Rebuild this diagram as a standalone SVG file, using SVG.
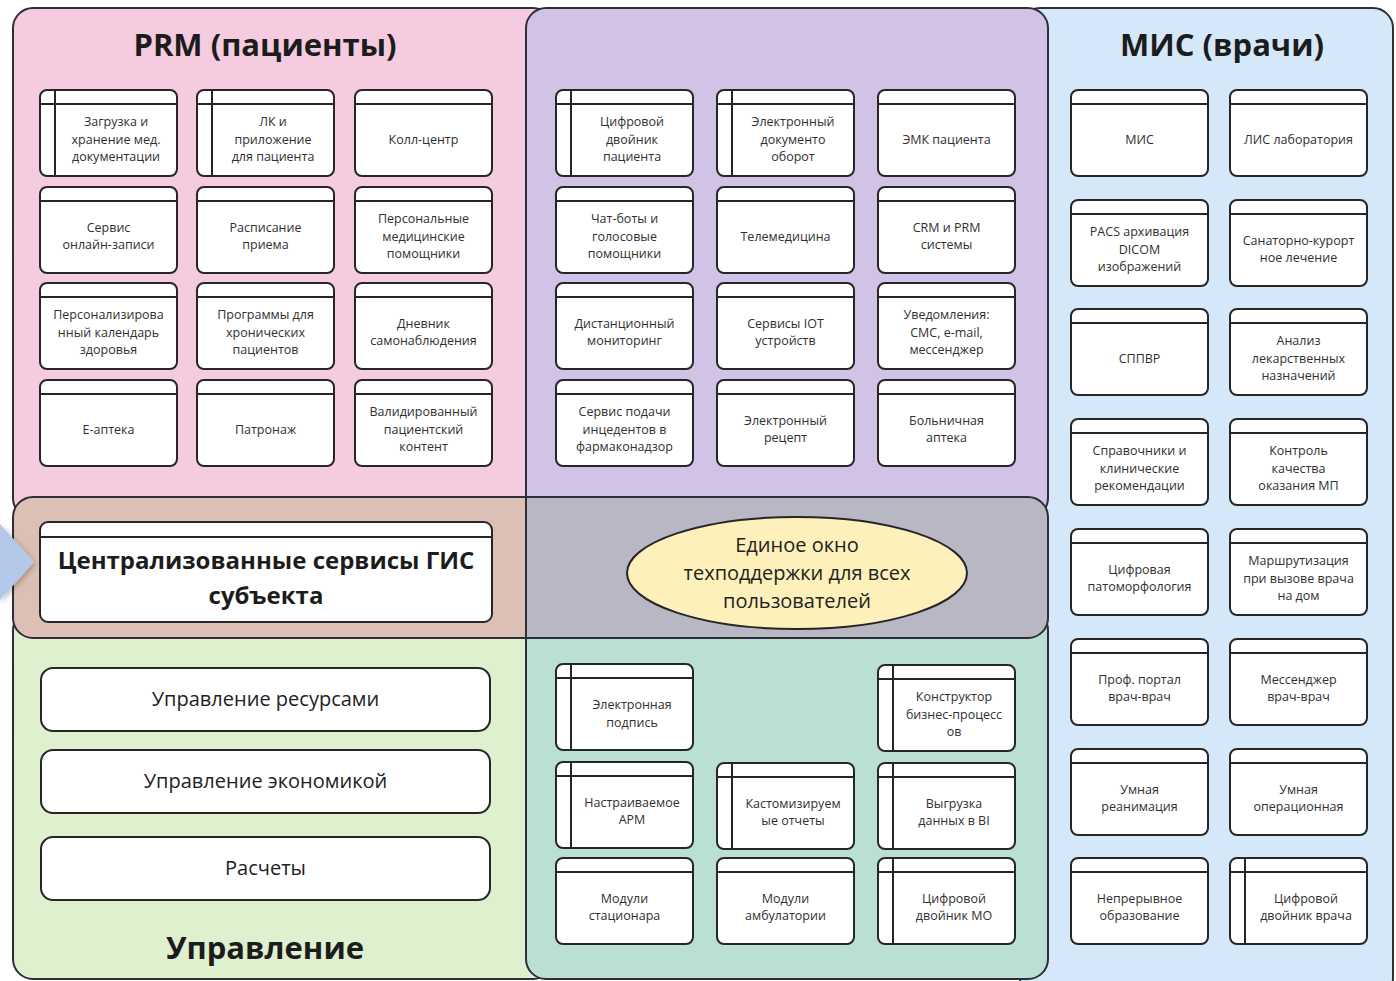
<svg xmlns="http://www.w3.org/2000/svg" width="1396" height="981" viewBox="0 0 1396 981">
  <defs>
    <filter id="soft" x="-50%" y="-50%" width="200%" height="200%">
      <feGaussianBlur in="SourceAlpha" stdDeviation="3"/>
      <feOffset dx="1" dy="2"/>
      <feComponentTransfer><feFuncA type="linear" slope="0.3"/></feComponentTransfer>
      <feMerge><feMergeNode/><feMergeNode in="SourceGraphic"/></feMerge>
    </filter>
  </defs>
  <style>
    .panel { stroke: #2e2e36; stroke-width: 2; }
    .box { fill: #ffffff; stroke: #262626; stroke-width: 2; }
    .sep { stroke: #262626; stroke-width: 2; fill: none; }
    .lbl { font-family: "Open Sans", "Noto Sans", "DejaVu Sans", sans-serif; font-size: 12.5px; fill: #303030; text-anchor: middle; }
    .title { font-family: "Open Sans", "Noto Sans", "DejaVu Sans", sans-serif; font-size: 31px; font-weight: 700; fill: #1c1c1c; text-anchor: middle; }
    .big { font-family: "Open Sans", "Noto Sans", "DejaVu Sans", sans-serif; font-size: 20px; fill: #222222; text-anchor: middle; }
    .bigb { font-family: "Open Sans", "Noto Sans", "DejaVu Sans", sans-serif; font-size: 24px; font-weight: 700; fill: #1c1c1c; text-anchor: middle; }
  </style>

  <rect width="1396" height="981" fill="#ffffff"/>

  <!-- background zones -->
  <g id="zones">
    <rect class="panel" x="1020" y="8" width="373" height="990" rx="20" fill="#d4e8f9"/>
    <rect class="panel" x="13" y="8" width="540" height="510" rx="20" fill="#f5cbe0"/>
    <rect class="panel" x="526" y="8" width="522" height="510" rx="20" fill="#d1c3e5"/>
    <rect class="panel" x="13" y="610" width="540" height="369" rx="20" fill="#def0cd"/>
    <rect class="panel" x="526" y="610" width="522" height="369" rx="20" fill="#b9e0d3"/>
    <path class="panel" d="M526 497 H33 A20 20 0 0 0 13 517 V618 A20 20 0 0 0 33 638 H526 Z" fill="#dcc0b6"/>
    <path class="panel" d="M526 497 H1028 A20 20 0 0 1 1048 517 V618 A20 20 0 0 1 1028 638 H526 Z" fill="#b8b7c3"/>
  </g>

  <!-- incoming arrow -->
  <g id="arrow-in">
    <polygon points="0,524 34,562 0,600" fill="#b4c9ea" filter="url(#soft)"/>
  </g>

  <!-- zone titles -->
  <g id="titles">
    <text class="title" x="265" y="56">PRM (пациенты)</text>
    <text class="title" x="1222" y="56">МИС (врачи)</text>
    <text class="title" x="265" y="959">Управление</text>
  </g>

  <!-- PRM column -->
  <g id="prm-1"><rect class="box" x="40" y="90" width="137" height="86" rx="7"/><path class="sep" d="M40 104 H177 M55 90 V176"/><text class="lbl" x="116" y="126"><tspan x="116">Загрузка и</tspan><tspan x="116" dy="17.5">хранение мед.</tspan><tspan x="116" dy="17.5">документации</tspan></text></g>
  <g id="prm-2"><rect class="box" x="197" y="90" width="137" height="86" rx="7"/><path class="sep" d="M197 104 H334 M212 90 V176"/><text class="lbl" x="273" y="126"><tspan x="273">ЛК и</tspan><tspan x="273" dy="17.5">приложение</tspan><tspan x="273" dy="17.5">для пациента</tspan></text></g>
  <g id="prm-3"><rect class="box" x="355" y="90" width="137" height="86" rx="7"/><path class="sep" d="M355 104 H492"/><text class="lbl" x="423.5" y="143.5">Колл-центр</text></g>

  <g id="prm-4"><rect class="box" x="40" y="187" width="137" height="86" rx="7"/><path class="sep" d="M40 201 H177"/><text class="lbl" x="108.5" y="231.75"><tspan x="108.5">Сервис</tspan><tspan x="108.5" dy="17.5">онлайн-записи</tspan></text></g>
  <g id="prm-5"><rect class="box" x="197" y="187" width="137" height="86" rx="7"/><path class="sep" d="M197 201 H334"/><text class="lbl" x="265.5" y="231.75"><tspan x="265.5">Расписание</tspan><tspan x="265.5" dy="17.5">приема</tspan></text></g>
  <g id="prm-6"><rect class="box" x="355" y="187" width="137" height="86" rx="7"/><path class="sep" d="M355 201 H492"/><text class="lbl" x="423.5" y="223"><tspan x="423.5">Персональные</tspan><tspan x="423.5" dy="17.5">медицинские</tspan><tspan x="423.5" dy="17.5">помощники</tspan></text></g>

  <g id="prm-7"><rect class="box" x="40" y="283" width="137" height="86" rx="7"/><path class="sep" d="M40 297 H177"/><text class="lbl" x="108.5" y="319"><tspan x="108.5">Персонализирова</tspan><tspan x="108.5" dy="17.5">нный календарь</tspan><tspan x="108.5" dy="17.5">здоровья</tspan></text></g>
  <g id="prm-8"><rect class="box" x="197" y="283" width="137" height="86" rx="7"/><path class="sep" d="M197 297 H334"/><text class="lbl" x="265.5" y="319"><tspan x="265.5">Программы для</tspan><tspan x="265.5" dy="17.5">хронических</tspan><tspan x="265.5" dy="17.5">пациентов</tspan></text></g>
  <g id="prm-9"><rect class="box" x="355" y="283" width="137" height="86" rx="7"/><path class="sep" d="M355 297 H492"/><text class="lbl" x="423.5" y="327.75"><tspan x="423.5">Дневник</tspan><tspan x="423.5" dy="17.5">самонаблюдения</tspan></text></g>

  <g id="prm-10"><rect class="box" x="40" y="380" width="137" height="86" rx="7"/><path class="sep" d="M40 394 H177"/><text class="lbl" x="108.5" y="433.5">Е-аптека</text></g>
  <g id="prm-11"><rect class="box" x="197" y="380" width="137" height="86" rx="7"/><path class="sep" d="M197 394 H334"/><text class="lbl" x="265.5" y="433.5">Патронаж</text></g>
  <g id="prm-12"><rect class="box" x="355" y="380" width="137" height="86" rx="7"/><path class="sep" d="M355 394 H492"/><text class="lbl" x="423.5" y="416"><tspan x="423.5">Валидированный</tspan><tspan x="423.5" dy="17.5">пациентский</tspan><tspan x="423.5" dy="17.5">контент</tspan></text></g>

  <!-- shared services column -->
  <g id="mid-1"><rect class="box" x="556" y="90" width="137" height="86" rx="7"/><path class="sep" d="M556 104 H693 M571 90 V176"/><text class="lbl" x="632" y="126"><tspan x="632">Цифровой</tspan><tspan x="632" dy="17.5">двойник</tspan><tspan x="632" dy="17.5">пациента</tspan></text></g>
  <g id="mid-2"><rect class="box" x="717" y="90" width="137" height="86" rx="7"/><path class="sep" d="M717 104 H854 M732 90 V176"/><text class="lbl" x="793" y="126"><tspan x="793">Электронный</tspan><tspan x="793" dy="17.5">документо</tspan><tspan x="793" dy="17.5">оборот</tspan></text></g>
  <g id="mid-3"><rect class="box" x="878" y="90" width="137" height="86" rx="7"/><path class="sep" d="M878 104 H1015"/><text class="lbl" x="946.5" y="143.5">ЭМК пациента</text></g>

  <g id="mid-4"><rect class="box" x="556" y="187" width="137" height="86" rx="7"/><path class="sep" d="M556 201 H693"/><text class="lbl" x="624.5" y="223"><tspan x="624.5">Чат-боты и</tspan><tspan x="624.5" dy="17.5">голосовые</tspan><tspan x="624.5" dy="17.5">помощники</tspan></text></g>
  <g id="mid-5"><rect class="box" x="717" y="187" width="137" height="86" rx="7"/><path class="sep" d="M717 201 H854"/><text class="lbl" x="785.5" y="240.5">Телемедицина</text></g>
  <g id="mid-6"><rect class="box" x="878" y="187" width="137" height="86" rx="7"/><path class="sep" d="M878 201 H1015"/><text class="lbl" x="946.5" y="231.75"><tspan x="946.5">CRM и PRM</tspan><tspan x="946.5" dy="17.5">системы</tspan></text></g>

  <g id="mid-7"><rect class="box" x="556" y="283" width="137" height="86" rx="7"/><path class="sep" d="M556 297 H693"/><text class="lbl" x="624.5" y="327.75"><tspan x="624.5">Дистанционный</tspan><tspan x="624.5" dy="17.5">мониторинг</tspan></text></g>
  <g id="mid-8"><rect class="box" x="717" y="283" width="137" height="86" rx="7"/><path class="sep" d="M717 297 H854"/><text class="lbl" x="785.5" y="327.75"><tspan x="785.5">Сервисы IOT</tspan><tspan x="785.5" dy="17.5">устройств</tspan></text></g>
  <g id="mid-9"><rect class="box" x="878" y="283" width="137" height="86" rx="7"/><path class="sep" d="M878 297 H1015"/><text class="lbl" x="946.5" y="319"><tspan x="946.5">Уведомления:</tspan><tspan x="946.5" dy="17.5">СМС, e-mail,</tspan><tspan x="946.5" dy="17.5">мессенджер</tspan></text></g>

  <g id="mid-10"><rect class="box" x="556" y="380" width="137" height="86" rx="7"/><path class="sep" d="M556 394 H693"/><text class="lbl" x="624.5" y="416"><tspan x="624.5">Сервис подачи</tspan><tspan x="624.5" dy="17.5">инцедентов в</tspan><tspan x="624.5" dy="17.5">фармаконадзор</tspan></text></g>
  <g id="mid-11"><rect class="box" x="717" y="380" width="137" height="86" rx="7"/><path class="sep" d="M717 394 H854"/><text class="lbl" x="785.5" y="424.75"><tspan x="785.5">Электронный</tspan><tspan x="785.5" dy="17.5">рецепт</tspan></text></g>
  <g id="mid-12"><rect class="box" x="878" y="380" width="137" height="86" rx="7"/><path class="sep" d="M878 394 H1015"/><text class="lbl" x="946.5" y="424.75"><tspan x="946.5">Больничная</tspan><tspan x="946.5" dy="17.5">аптека</tspan></text></g>

  <!-- central services band -->
  <g id="gis-core"><rect class="box" x="40" y="522" width="452" height="100" rx="8"/><path class="sep" d="M40 537 H492"/><text class="bigb" x="266" y="569"><tspan x="266">Централизованные сервисы ГИС</tspan><tspan x="266" dy="35">субъекта</tspan></text></g>
  <g id="support"><ellipse cx="797" cy="573" rx="170" ry="56" fill="#fdf0ba" stroke="#262626" stroke-width="2"/><text class="big" x="797" y="552"><tspan x="797">Единое окно</tspan><tspan x="797" dy="28">техподдержки для всех</tspan><tspan x="797" dy="28">пользователей</tspan></text></g>

  <!-- management column -->
  <g id="mgmt-1"><rect class="box" x="41" y="668" width="449" height="63" rx="12"/><text class="big" x="265.5" y="706">Управление ресурсами</text></g>
  <g id="mgmt-2"><rect class="box" x="41" y="750" width="449" height="63" rx="12"/><text class="big" x="265.5" y="788">Управление экономикой</text></g>
  <g id="mgmt-3"><rect class="box" x="41" y="837" width="449" height="63" rx="12"/><text class="big" x="265.5" y="875">Расчеты</text></g>

  <!-- platform column -->
  <g id="plat-1"><rect class="box" x="556" y="664" width="137" height="86" rx="7"/><path class="sep" d="M556 678 H693 M571 664 V750"/><text class="lbl" x="632" y="709"><tspan x="632">Электронная</tspan><tspan x="632" dy="17.5">подпись</tspan></text></g>
  <g id="plat-2"><rect class="box" x="878" y="665" width="137" height="86" rx="7"/><path class="sep" d="M878 679 H1015 M893 665 V751"/><text class="lbl" x="954" y="701"><tspan x="954">Конструктор</tspan><tspan x="954" dy="17.5">бизнес-процесс</tspan><tspan x="954" dy="17.5">ов</tspan></text></g>
  <g id="plat-3"><rect class="box" x="556" y="762" width="137" height="86" rx="7"/><path class="sep" d="M556 776 H693 M571 762 V848"/><text class="lbl" x="632" y="806.75"><tspan x="632">Настраиваемое</tspan><tspan x="632" dy="17.5">АРМ</tspan></text></g>
  <g id="plat-4"><rect class="box" x="717" y="763" width="137" height="86" rx="7"/><path class="sep" d="M717 777 H854 M732 763 V849"/><text class="lbl" x="793" y="807.75"><tspan x="793">Кастомизируем</tspan><tspan x="793" dy="17.5">ые отчеты</tspan></text></g>
  <g id="plat-5"><rect class="box" x="878" y="763" width="137" height="86" rx="7"/><path class="sep" d="M878 777 H1015 M893 763 V849"/><text class="lbl" x="954" y="807.75"><tspan x="954">Выгрузка</tspan><tspan x="954" dy="17.5">данных в BI</tspan></text></g>
  <g id="plat-6"><rect class="box" x="556" y="858" width="137" height="86" rx="7"/><path class="sep" d="M556 872 H693"/><text class="lbl" x="624.5" y="902.75"><tspan x="624.5">Модули</tspan><tspan x="624.5" dy="17.5">стационара</tspan></text></g>
  <g id="plat-7"><rect class="box" x="717" y="858" width="137" height="86" rx="7"/><path class="sep" d="M717 872 H854"/><text class="lbl" x="785.5" y="902.75"><tspan x="785.5">Модули</tspan><tspan x="785.5" dy="17.5">амбулатории</tspan></text></g>
  <g id="plat-8"><rect class="box" x="878" y="858" width="137" height="86" rx="7"/><path class="sep" d="M878 872 H1015 M893 858 V944"/><text class="lbl" x="954" y="902.75"><tspan x="954">Цифровой</tspan><tspan x="954" dy="17.5">двойник МО</tspan></text></g>

  <!-- MIS column -->
  <g id="mis-1"><rect class="box" x="1071" y="90" width="137" height="86" rx="7"/><path class="sep" d="M1071 104 H1208"/><text class="lbl" x="1139.5" y="143.5">МИС</text></g>
  <g id="mis-2"><rect class="box" x="1230" y="90" width="137" height="86" rx="7"/><path class="sep" d="M1230 104 H1367"/><text class="lbl" x="1298.5" y="143.5">ЛИС лаборатория</text></g>

  <g id="mis-3"><rect class="box" x="1071" y="200" width="137" height="86" rx="7"/><path class="sep" d="M1071 214 H1208"/><text class="lbl" x="1139.5" y="236"><tspan x="1139.5">PACS архивация</tspan><tspan x="1139.5" dy="17.5">DICOM</tspan><tspan x="1139.5" dy="17.5">изображений</tspan></text></g>
  <g id="mis-4"><rect class="box" x="1230" y="200" width="137" height="86" rx="7"/><path class="sep" d="M1230 214 H1367"/><text class="lbl" x="1298.5" y="244.75"><tspan x="1298.5">Санаторно-курорт</tspan><tspan x="1298.5" dy="17.5">ное лечение</tspan></text></g>

  <g id="mis-5"><rect class="box" x="1071" y="309" width="137" height="86" rx="7"/><path class="sep" d="M1071 323 H1208"/><text class="lbl" x="1139.5" y="362.5">СППВР</text></g>
  <g id="mis-6"><rect class="box" x="1230" y="309" width="137" height="86" rx="7"/><path class="sep" d="M1230 323 H1367"/><text class="lbl" x="1298.5" y="345"><tspan x="1298.5">Анализ</tspan><tspan x="1298.5" dy="17.5">лекарственных</tspan><tspan x="1298.5" dy="17.5">назначений</tspan></text></g>

  <g id="mis-7"><rect class="box" x="1071" y="419" width="137" height="86" rx="7"/><path class="sep" d="M1071 433 H1208"/><text class="lbl" x="1139.5" y="455"><tspan x="1139.5">Справочники и</tspan><tspan x="1139.5" dy="17.5">клинические</tspan><tspan x="1139.5" dy="17.5">рекомендации</tspan></text></g>
  <g id="mis-8"><rect class="box" x="1230" y="419" width="137" height="86" rx="7"/><path class="sep" d="M1230 433 H1367"/><text class="lbl" x="1298.5" y="455"><tspan x="1298.5">Контроль</tspan><tspan x="1298.5" dy="17.5">качества</tspan><tspan x="1298.5" dy="17.5">оказания МП</tspan></text></g>

  <g id="mis-9"><rect class="box" x="1071" y="529" width="137" height="86" rx="7"/><path class="sep" d="M1071 543 H1208"/><text class="lbl" x="1139.5" y="573.75"><tspan x="1139.5">Цифровая</tspan><tspan x="1139.5" dy="17.5">патоморфология</tspan></text></g>
  <g id="mis-10"><rect class="box" x="1230" y="529" width="137" height="86" rx="7"/><path class="sep" d="M1230 543 H1367"/><text class="lbl" x="1298.5" y="565"><tspan x="1298.5">Маршрутизация</tspan><tspan x="1298.5" dy="17.5">при вызове врача</tspan><tspan x="1298.5" dy="17.5">на дом</tspan></text></g>

  <g id="mis-11"><rect class="box" x="1071" y="639" width="137" height="86" rx="7"/><path class="sep" d="M1071 653 H1208"/><text class="lbl" x="1139.5" y="683.75"><tspan x="1139.5">Проф. портал</tspan><tspan x="1139.5" dy="17.5">врач-врач</tspan></text></g>
  <g id="mis-12"><rect class="box" x="1230" y="639" width="137" height="86" rx="7"/><path class="sep" d="M1230 653 H1367"/><text class="lbl" x="1298.5" y="683.75"><tspan x="1298.5">Мессенджер</tspan><tspan x="1298.5" dy="17.5">врач-врач</tspan></text></g>

  <g id="mis-13"><rect class="box" x="1071" y="749" width="137" height="86" rx="7"/><path class="sep" d="M1071 763 H1208"/><text class="lbl" x="1139.5" y="793.75"><tspan x="1139.5">Умная</tspan><tspan x="1139.5" dy="17.5">реанимация</tspan></text></g>
  <g id="mis-14"><rect class="box" x="1230" y="749" width="137" height="86" rx="7"/><path class="sep" d="M1230 763 H1367"/><text class="lbl" x="1298.5" y="793.75"><tspan x="1298.5">Умная</tspan><tspan x="1298.5" dy="17.5">операционная</tspan></text></g>

  <g id="mis-15"><rect class="box" x="1071" y="858" width="137" height="86" rx="7"/><path class="sep" d="M1071 872 H1208"/><text class="lbl" x="1139.5" y="902.75"><tspan x="1139.5">Непрерывное</tspan><tspan x="1139.5" dy="17.5">образование</tspan></text></g>
  <g id="mis-16"><rect class="box" x="1230" y="858" width="137" height="86" rx="7"/><path class="sep" d="M1230 872 H1367 M1245 858 V944"/><text class="lbl" x="1306" y="902.75"><tspan x="1306">Цифровой</tspan><tspan x="1306" dy="17.5">двойник врача</tspan></text></g>

  <!-- no connectors in this layout -->
  <g id="connectors"/>
</svg>
